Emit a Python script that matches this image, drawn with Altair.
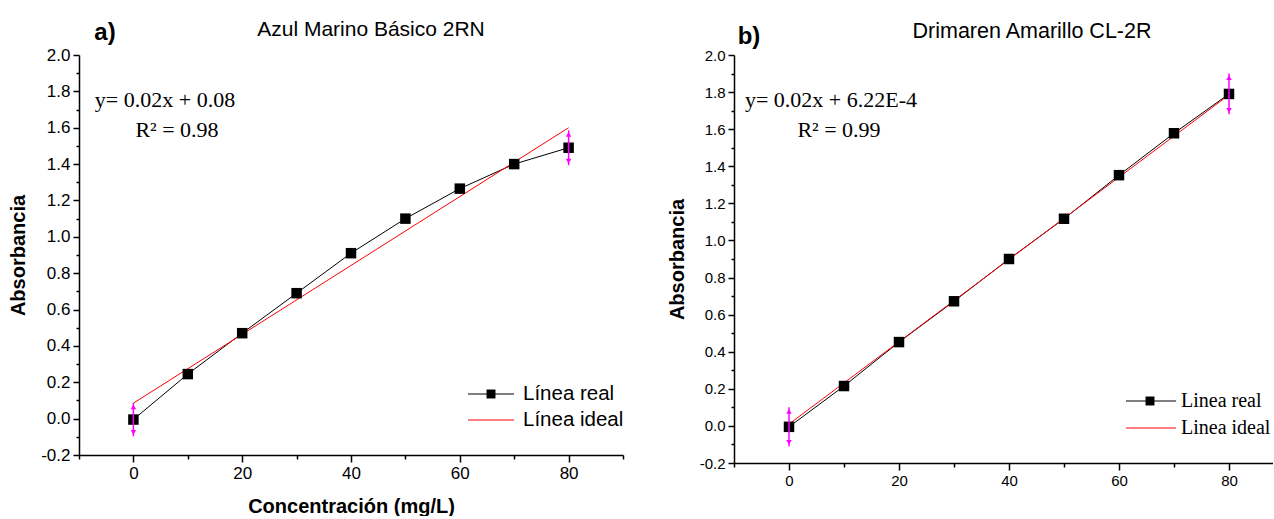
import altair as alt
import pandas as pd

# ---------------- data ----------------
conc = [0, 10, 20, 30, 40, 50, 60, 70, 80]
abs_a = [-0.005, 0.245, 0.47, 0.69, 0.91, 1.10, 1.265, 1.40, 1.49]
abs_b = [-0.005, 0.215, 0.452, 0.672, 0.90, 1.117, 1.352, 1.578, 1.79]

ideal_conc = [0, 80]
ideal_a = [0.085, 1.60]
ideal_b = [0.01, 1.785]

err_conc = [0, 80]
err_mid_a = [-0.005, 1.49]
err_size_a = [0.092, 0.096]
err_mid_b = [-0.005, 1.79]
err_size_b = [0.105, 0.11]

y_major = [-0.2, 0.0, 0.2, 0.4, 0.6, 0.8, 1.0, 1.2, 1.4, 1.6, 1.8, 2.0]
y_minor = [-0.1, 0.1, 0.3, 0.5, 0.7, 0.9, 1.1, 1.3, 1.5, 1.7, 1.9]
x_major = [0, 20, 40, 60, 80]
x_minor = [-10, 10, 30, 50, 70, 90]

SANS = "Liberation Sans"
SERIF = "Liberation Serif"
MAGENTA = "#ff00ff"


def text_layer(txt, x, y, size, font, weight="normal", align="center", angle=0):
    return alt.Chart(pd.DataFrame({"t": [txt]})).mark_text(
        font=font, fontSize=size, fontWeight=weight, align=align,
        baseline="middle", color="black", angle=angle
    ).encode(text="t:N", x=alt.value(x), y=alt.value(y))


def panel(real, ideal, err_mid, err_size, xdom, w, h, label_size, x_title,
          tag, title, eq1, eq2, eq_pos, legend_pos, legend_font, legend_size,
          tag_pos, title_pos, title_size):
    xs = alt.Scale(domain=xdom, nice=False, zero=False)
    ys = alt.Scale(domain=[-0.2, 2.0], nice=False, zero=False)
    lab_expr = "replace(format(datum.value, '.1f'), '\u2212', '-')"
    ax_x_major = alt.Axis(values=x_major, format="d", orient="bottom",
                          title=x_title, tickSize=7, labelFontSize=label_size,
                          labelPadding=3, titlePadding=15)
    ax_x_minor = alt.Axis(values=x_minor, labels=False, orient="bottom",
                          title=None, tickSize=4, domain=False)
    ax_y_major = alt.Axis(values=y_major, labelExpr=lab_expr, orient="left",
                          title="Absorbancia", tickSize=6,
                          labelFontSize=label_size, labelPadding=3,
                          titlePadding=12)
    ax_y_minor = alt.Axis(values=y_minor, labels=False, orient="left",
                          title=None, tickSize=3, domain=False)

    df_real = pd.DataFrame({"x": conc, "y": real})
    df_ideal = pd.DataFrame({"x": ideal_conc, "y": ideal})
    df_err = pd.DataFrame({"x": err_conc, "m": err_mid, "e": err_size})
    df_err["lo"] = df_err["m"] - df_err["e"]
    df_err["hi"] = df_err["m"] + df_err["e"]

    real_line = alt.Chart(df_real).mark_line(color="black", strokeWidth=1).encode(
        x=alt.X("x:Q", scale=xs, axis=ax_x_major),
        y=alt.Y("y:Q", scale=ys, axis=ax_y_major))
    minor_axes = alt.Chart(df_real).mark_point(opacity=0).encode(
        x=alt.X("x:Q", scale=xs, axis=ax_x_minor),
        y=alt.Y("y:Q", scale=ys, axis=ax_y_minor))
    ideal_line = alt.Chart(df_ideal).mark_line(color="#ff0000", strokeWidth=1).encode(
        x=alt.X("x:Q", scale=xs, axis=None),
        y=alt.Y("y:Q", scale=ys, axis=None))
    squares = alt.Chart(df_real).mark_square(color="black", size=110, opacity=1).encode(
        x=alt.X("x:Q", scale=xs, axis=None),
        y=alt.Y("y:Q", scale=ys, axis=None))
    err_rule = alt.Chart(df_err).mark_rule(color=MAGENTA, strokeWidth=1.5).encode(
        x=alt.X("x:Q", scale=xs, axis=None),
        y=alt.Y("lo:Q", scale=ys, axis=None), y2="hi:Q")
    err_top = alt.Chart(df_err).mark_point(shape="triangle-up", filled=True,
                                           color=MAGENTA, size=30, opacity=1,
                                           yOffset=4).encode(
        x=alt.X("x:Q", scale=xs, axis=None),
        y=alt.Y("hi:Q", scale=ys, axis=None))
    err_bot = alt.Chart(df_err).mark_point(shape="triangle-down", filled=True,
                                           color=MAGENTA, size=30, opacity=1,
                                           yOffset=-4).encode(
        x=alt.X("x:Q", scale=xs, axis=None),
        y=alt.Y("lo:Q", scale=ys, axis=None))

    lx0, lx1, lsq, ltx, ly1, ly2 = legend_pos
    leg_line1 = alt.Chart(pd.DataFrame({"k": [1]})).mark_rule(color="black", strokeWidth=1).encode(
        x=alt.value(lx0), x2=alt.value(lx1), y=alt.value(ly1))
    leg_sq = alt.Chart(pd.DataFrame({"k": [1]})).mark_square(color="black", size=80, opacity=1).encode(
        x=alt.value(lsq), y=alt.value(ly1))
    leg_line2 = alt.Chart(pd.DataFrame({"k": [1]})).mark_rule(color="#ff0000", strokeWidth=1).encode(
        x=alt.value(lx0), x2=alt.value(lx1), y=alt.value(ly2))
    leg_t1 = text_layer(legend_font[0], ltx, ly1, legend_size, legend_font[1], align="left")
    leg_t2 = text_layer(legend_font[2], ltx, ly2, legend_size, legend_font[1], align="left")

    (e1x, e1y, e2x, e2y, esize) = eq_pos
    eq_t1 = text_layer(eq1, e1x, e1y, esize, SERIF)
    eq_t2 = text_layer(eq2, e2x, e2y, esize, SERIF)
    tag_t = text_layer(tag, tag_pos[0], tag_pos[1], 24, SANS, weight="bold")
    title_t = text_layer(title, title_pos[0], title_pos[1], title_size, SANS)

    return alt.layer(
        real_line, minor_axes, ideal_line, squares, err_rule, err_top, err_bot,
        leg_line1, leg_sq, leg_line2, leg_t1, leg_t2, eq_t1, eq_t2, tag_t, title_t
    ).resolve_axis(x="independent", y="independent").properties(width=w, height=h)


panel_a = panel(
    abs_a, ideal_a, err_mid_a, err_size_a, [-10, 90], 544, 400, 17,
    "Concentración (mg/L)", "a)", "Azul Marino Básico 2RN",
    "y= 0.02x + 0.08", "R² = 0.98", (86, 45, 98, 75, 22),
    (389, 435, 412, 444, 339, 365), ("Línea real", SANS, "Línea ideal"), 20.5,
    (26, -22), (292, -25), 21)

panel_b = panel(
    abs_b, ideal_b, err_mid_b, err_size_b, [-10, 88], 539, 408, 15,
    None, "b)", "Drimaren Amarillo CL-2R",
    "y= 0.02x + 6.22E-4", "R² = 0.99", (97, 45, 105, 75, 22),
    (392, 442, 416, 447, 346, 373), ("Linea real", SERIF, "Linea ideal"), 20,
    (15, -18), (298, -23), 21.5)

chart = alt.hconcat(panel_a, panel_b, spacing=43).properties(
    padding={"left": 8, "top": 19, "right": 0, "bottom": 0},
    background="white"
).configure_view(stroke=None).configure_axis(
    domainColor="black", domainWidth=1.5, tickColor="black", tickWidth=1.5,
    labelColor="black", labelFont=SANS, titleFont=SANS, titleFontSize=20,
    titleFontWeight="bold", titleColor="black", grid=False
)

chart.save("out.html", embed_options={"renderer": "svg", "actions": False})
